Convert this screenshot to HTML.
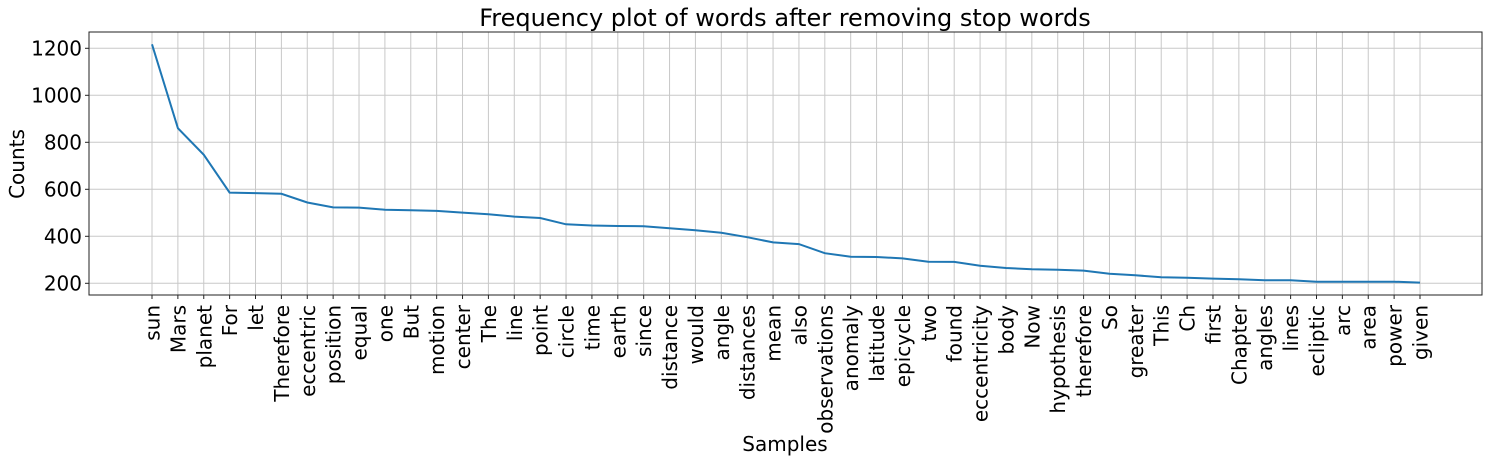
<!DOCTYPE html>
<html><head><meta charset="utf-8"><style>
html,body{margin:0;padding:0;background:#fff;}
svg text{font-family:"DejaVu Sans","Liberation Sans",sans-serif;fill:#000;}
</style></head><body>
<svg id="chart" width="1490" height="461" xmlns="http://www.w3.org/2000/svg">
<text x="785" y="26" font-size="24" text-anchor="middle">Frequency plot of words after removing stop words</text>
<g id="grid"></g>
<g id="ticks"></g>
<path id="line" fill="none" stroke="#1f77b4" stroke-width="2"/>
<rect x="89" y="32" width="1393" height="263" fill="none" stroke="#222" stroke-width="1"/>
<text x="785" y="451" font-size="20" text-anchor="middle">Samples</text>
<text transform="translate(24,164) rotate(-90)" font-size="20" text-anchor="middle">Counts</text>
</svg>
<script>
const words=["sun","Mars","planet","For","let","Therefore","eccentric","position","equal","one","But","motion","center","The","line","point","circle","time","earth","since","distance","would","angle","distances","mean","also","observations","anomaly","latitude","epicycle","two","found","eccentricity","body","Now","hypothesis","therefore","So","greater","This","Ch","first","Chapter","angles","lines","ecliptic","arc","area","power","given"];
const counts=[1217,860,747,586,584,581,544,523,522,513,511,508,501,494,484,478,451,446,444,443,434,426,415,396,374,367,328,313,312,306,292,291,275,265,260,258,254,241,234,226,224,220,217,213,213,207,207,207,207,203];
const yTicks=[200,400,600,800,1000,1200];
const NS="http://www.w3.org/2000/svg";
const x0=152,x1=1420,L=89,R=1482,T=32,B=295;
function xs(i){return x0+(x1-x0)*i/(words.length-1);}
function ys(v){return 283.3-(v-200)*0.235;}
const grid=document.getElementById('grid'),ticks=document.getElementById('ticks');
function mk(tag,attrs,parent){const e=document.createElementNS(NS,tag);for(const k in attrs)e.setAttribute(k,attrs[k]);parent.appendChild(e);return e;}
words.forEach((w,i)=>{
  const x=xs(i);
  const g=mk('line',{x1:x,x2:x,y1:T,y2:B,stroke:'#c8c8c8','stroke-width':1},grid);
  
  
  const t=mk('line',{x1:x,x2:x,y1:B,y2:B+4,stroke:'#222','stroke-width':1},ticks);
  
  
  const tx=mk('text',{transform:`translate(${x+7.5},305) rotate(-90)`,'font-size':20,'text-anchor':'end'},ticks);
  tx.textContent=w;
  
  
});
yTicks.forEach(v=>{
  const y=ys(v);
  const g=mk('line',{x1:L,x2:R,y1:y,y2:y,stroke:'#c8c8c8','stroke-width':1},grid);
  
  
  const t=mk('line',{x1:L-4,x2:L,y1:y,y2:y,stroke:'#222','stroke-width':1},ticks);
  
  
  const tx=mk('text',{x:L-7,y:y+7,'font-size':20,'text-anchor':'end'},ticks);
  tx.textContent=v;
  
  
});
document.getElementById('line').setAttribute('d',counts.map((c,i)=>(i?'L':'M')+xs(i).toFixed(1)+','+ys(c).toFixed(1)).join(''));
</script>
</body></html>
